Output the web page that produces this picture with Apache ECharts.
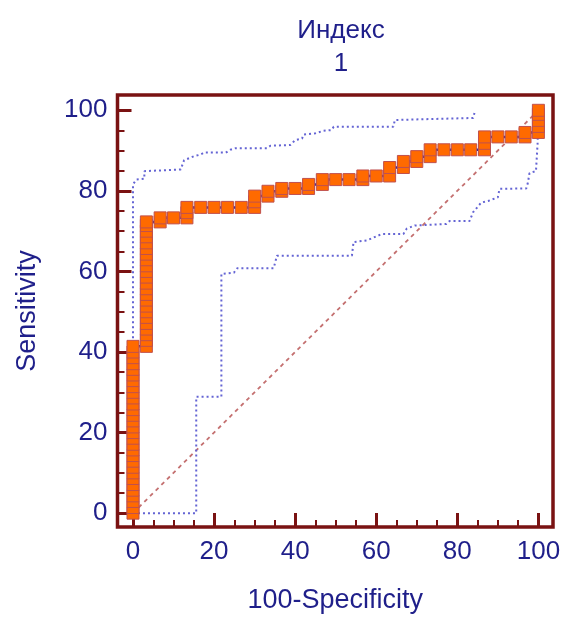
<!DOCTYPE html>
<html><head><meta charset="utf-8">
<script src="https://cdn.jsdelivr.net/npm/echarts@6/dist/echarts.min.js"></script>
<style>html,body{margin:0;padding:0;background:#fff}#c{width:564px;height:619px}</style>
</head><body><div id="c"></div>
<script>
const chartTitle = 'Индекс\n1';
const xAxisName = '100-Specificity';
const yAxisName = 'Sensitivity';
const majorTicks = [0, 20, 40, 60, 80, 100];
const minorTicks = [0, 5, 10, 15, 20, 25, 30, 35, 40, 45, 50, 55, 60, 65, 70, 75, 80, 85, 90, 95, 100];

// ROC curve points (100-Specificity, Sensitivity)
const rocFpr = [
  0,0,0,0,0,0,0,0,0,0,0,0,0,0,0,0,0,0,0,0,0,0,0,0,0,0,0,0,0,0,
  3.3,3.3,3.3,3.3,3.3,3.3,3.3,3.3,3.3,3.3,3.3,3.3,3.3,3.3,3.3,3.3,3.3,3.3,3.3,3.3,3.3,3.3,3.3,
  6.7,6.7, 10, 13.3,13.3,13.3, 16.7, 20, 23.3, 26.7, 30,30,30, 33.3,33.3, 36.7,36.7, 40,
  43.3,43.3, 46.7,46.7, 50, 53.3, 56.7,56.7, 60, 63.3,63.3, 66.7,66.7, 70,70, 73.3,73.3,
  76.7, 80, 83.3, 86.7,86.7,86.7, 90, 93.3, 96.7,96.7, 100,100,100,100,100
];
const rocSens = [
  0,1.4,2.9,4.3,5.7,7.1,8.6,10,11.4,12.9,14.3,15.7,17.1,18.6,20,21.4,22.9,24.3,25.7,27.1,28.6,30,31.4,32.9,34.3,35.7,37.1,38.6,40,41.4,
  41.4,42.9,44.3,45.7,47.1,48.6,50,51.4,52.9,54.3,55.7,57.1,58.6,60,61.4,62.9,64.3,65.7,67.1,68.6,70,71.4,72.3,
  72.3,73.3, 73.3, 73.3,74.6,75.9, 75.9, 75.9, 75.9, 75.9, 75.9,77.3,78.7, 78.7,79.9, 79.9,80.6, 80.6,
  80.6,81.6, 81.6,82.8, 82.8, 82.8, 82.8,83.7, 83.7, 83.7,85.8, 85.8,87.3, 87.3,88.5, 88.5,90.2,
  90.2, 90.2, 90.2, 90.2,91.8,93.4, 93.4, 93.4, 93.4,94.5, 94.5,96,97.5,99,100
];

// Upper confidence bound
const upperFpr = [0,0,0.8,2.8,2.8,11.8,12.2,12.6,15,16.7,17.5,22.9,24,25.3,33.1,33.9,38.8,39.2,40,41.7,42.1,45,46.9,49,49.5,64.2,64.6,83.9,84.3];
const upperSens = [0,81.6,82.8,83,84.9,85.3,86.5,87.6,88.6,89,89.5,89.5,90.2,90.6,90.6,91.2,91.4,91.8,92.6,93,94,94.3,94.9,95.1,95.9,95.9,97.6,98.1,99.6];

// Lower confidence bound
const lowerFpr = [0,15.6,15.6,21.8,21.8,24.9,25.7,34.7,35.5,54,54.4,57.7,61.4,66.7,67.5,69.5,77.3,78.1,83,83.9,85.9,87.6,90,90.4,97,97.4,97.8,99.4,99.8,100];
const lowerSens = [0,0,28.9,28.9,59.4,59.7,60.8,60.8,63.9,63.9,67.3,67.7,69.3,69.3,70.6,71.4,71.8,72.5,72.5,74.7,77.1,77.5,78.4,80.5,80.6,82,84.4,84.9,91.8,100];

// Reference diagonal
const refFpr = [0, 100];
const refSens = [0, 100];

const FONT = '"Liberation Sans", Arial, sans-serif';
const TXT = '#1f1f8a';
const FRAME = '#7a1212';

const pairs = (xs, ys) => xs.map((x, i) => [x, ys[i]]);

const xMin = -3.82, xMax = 103.6, yMin = -3.44, yMax = 103.8;

function mkAxis(dim, major) {
  const a = {
    type: 'value', min: dim === 'x' ? xMin : yMin, max: dim === 'x' ? xMax : yMax,
    position: dim === 'x' ? 'bottom' : 'left',
    axisLine: { show: false, onZero: false },
    splitLine: { show: false },
    axisTick: {
      show: true, inside: true,
      length: major ? 14 : 7,
      customValues: major ? majorTicks : minorTicks,
      lineStyle: { color: FRAME, width: major ? 3 : 2 }
    },
    axisLabel: major ? {
      customValues: majorTicks, fontSize: 26, color: TXT, fontFamily: FONT,
      margin: dim === 'x' ? 12 : 10
    } : { show: false }
  };
  if (major) {
    a.name = dim === 'x' ? xAxisName : yAxisName;
    a.nameLocation = 'middle';
    a.nameGap = dim === 'x' ? 60 : 76;
    a.nameTextStyle = { fontSize: 27, color: TXT, fontFamily: FONT };
  }
  return a;
}

const chart = echarts.init(document.getElementById('c'), null, { renderer: 'canvas' });
chart.setOption({
  animation: false,
  backgroundColor: '#ffffff',
  title: {
    text: chartTitle, left: 336, top: 9, textAlign: 'center',
    textStyle: { fontSize: 26, fontWeight: 'normal', color: TXT, fontFamily: FONT, lineHeight: 33 }
  },
  grid: {
    left: 117.5, right: 11, top: 95, bottom: 87.5,
    show: true, borderColor: FRAME, borderWidth: 3.5, backgroundColor: 'transparent'
  },
  xAxis: [mkAxis('x', false), mkAxis('x', true)],
  yAxis: [mkAxis('y', false), mkAxis('y', true)],
  series: [
    {
      type: 'line', data: pairs(refFpr, refSens), symbol: 'none', silent: true,
      lineStyle: { color: '#c47070', width: 1.8, type: [4, 4] }, z: 1
    },
    {
      type: 'line', data: pairs(upperFpr, upperSens), symbol: 'none', silent: true,
      lineStyle: { color: '#6464d4', width: 2, type: [2, 3] }, z: 2
    },
    {
      type: 'line', data: pairs(lowerFpr, lowerSens), symbol: 'none', silent: true,
      lineStyle: { color: '#6464d4', width: 2, type: [2, 3] }, z: 2
    },
    {
      type: 'line', data: pairs(rocFpr, rocSens), symbol: 'rect', symbolSize: 12, silent: true,
      lineStyle: { color: '#23239a', width: 2.5 },
      itemStyle: { color: '#ff6a00', borderColor: '#c0504e', borderWidth: 1 },
      z: 3
    }
  ]
});
</script>
</body></html>
